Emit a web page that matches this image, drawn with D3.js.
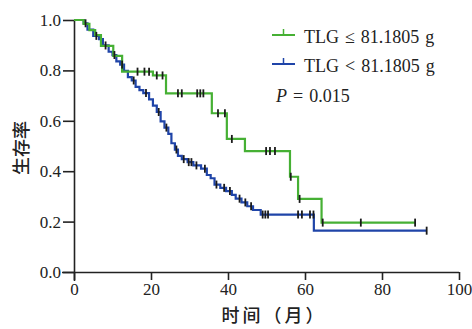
<!DOCTYPE html>
<html>
<head>
<meta charset="utf-8">
<script src="https://cdn.jsdelivr.net/npm/d3@7"></script>
<style>
  body { margin: 0; background: #fff; }
  svg { display: block; }
  .tick text { font-family: "Liberation Serif", "DejaVu Serif", serif; font-size: 17px; fill: #222; }
  .domain, .tick line { stroke: #222; stroke-width: 1.6; }
</style>
</head>
<body>
<svg id="chart" width="472" height="329"></svg>
<script>
// tick values
const xTicks = [0, 20, 40, 60, 80, 100];
const yTicks = [0, 0.2, 0.4, 0.6, 0.8, 1.0];

// green group (TLG <= 81.1805 g): step times and survival after each step
const greenTimes = [0, 2.5, 4, 5.5, 7, 10.2, 12.5, 20.5, 23.9, 35.8, 39.7, 44.4, 56.1, 58.2, 64.3, 88.6];
const greenSurv  = [1.0, 0.985, 0.96, 0.94, 0.897, 0.858, 0.795, 0.78, 0.709, 0.63, 0.528, 0.48, 0.378, 0.29, 0.196, 0.196];
const greenCensor = [16.5, 18.3, 19.5, 21.5, 23, 27, 28, 32, 32.8, 33.6, 37.4, 39.2, 41, 49.9, 50.9, 52.2, 56.3, 58.6, 64.6, 74.5, 88.6];

// blue group (TLG < 81.1805 g)
const blueTimes = [0, 2.5, 3.5, 5, 6.5, 7.5, 9, 10, 11, 12, 13, 14, 15, 16, 17, 18, 19.5, 20.5, 21.5, 22.5, 23.5, 24.5, 25.3, 26.2, 27, 28, 29.5, 31, 33, 34.5, 35.5, 36.5, 38, 39.5, 41, 42, 43.5, 45, 46.5, 48.5, 62.3, 91.6];
const blueSurv  = [1.0, 0.987, 0.962, 0.937, 0.924, 0.899, 0.874, 0.861, 0.836, 0.823, 0.798, 0.773, 0.76, 0.735, 0.722, 0.71, 0.685, 0.66, 0.635, 0.598, 0.573, 0.548, 0.511, 0.486, 0.461, 0.448, 0.436, 0.423, 0.41, 0.385, 0.372, 0.347, 0.334, 0.321, 0.306, 0.291, 0.276, 0.261, 0.246, 0.228, 0.164, 0.164];
const blueCensor = [3, 5.8, 8.2, 10.5, 12.5, 15.5, 18.7, 22, 24, 26.6, 28.5, 29.8, 30.5, 31.8, 34, 37, 39, 40.5, 43, 44.5, 46, 49, 49.7, 50.4, 58.2, 59.2, 61.3, 62.2, 91.6];

const legendLabels = ["TLG \u2264 81.1805 g", "TLG < 81.1805 g"];
const colors = ["#46b034", "#1f44a8"];

const svg = d3.select("#chart");

const x = d3.scaleLinear().domain([0, 100]).range([74, 459]);
const y = d3.scaleLinear().domain([0, 1]).range([272, 20]);

// axes
svg.append("g")
  .attr("transform", "translate(0,272)")
  .call(d3.axisBottom(x).tickValues(xTicks).tickSize(8).tickPadding(3).tickSizeOuter(0))
  .call(g => g.select(".domain").attr("d", "M62,0.5H459"));

svg.append("g")
  .attr("transform", "translate(74,0)")
  .call(d3.axisLeft(y).tickValues(yTicks).tickFormat(d3.format(".1f")).tickSize(11).tickPadding(2).tickSizeOuter(0))
  .call(g => g.select(".domain").attr("d", "M0.5,20V281"));

// axis titles
svg.append("text")
  .attr("x", 20).attr("y", 148)
  .attr("transform", "rotate(-90,20,148)")
  .attr("text-anchor", "middle")
  .attr("dominant-baseline", "central")
  .style("font-family", "'Noto Sans CJK SC'")
  .style("font-size", "18px")
  .style("font-weight", 500)
  .attr("fill", "#222")
  .text("生存率");

svg.append("text")
  .attr("x", 274).attr("y", 322)
  .attr("text-anchor", "middle")
  .style("font-family", "'Noto Sans CJK SC'")
  .style("font-size", "18px")
  .style("font-weight", 500)
  .style("letter-spacing", "3px")
  .attr("fill", "#222")
  .text("时间（月）");

const line = d3.line()
  .x(d => x(d[0]))
  .y(d => y(d[1]))
  .curve(d3.curveStepAfter);

function survAt(times, surv, t) {
  const i = d3.bisectRight(times, t) - 1;
  return surv[Math.max(0, i)];
}

const groups = [
  { times: greenTimes, surv: greenSurv, censor: greenCensor },
  { times: blueTimes, surv: blueSurv, censor: blueCensor }
];

// draw blue first, green on top
[1, 0].forEach(k => {
  const g = groups[k];
  svg.append("path")
    .datum(d3.zip(g.times, g.surv))
    .attr("fill", "none")
    .attr("stroke", colors[k])
    .attr("stroke-width", 2.2)
    .attr("d", line);
});

[1, 0].forEach(k => {
  const g = groups[k];
  svg.append("g").selectAll("line")
    .data(g.censor)
    .join("line")
    .attr("x1", d => x(d)).attr("x2", d => x(d))
    .attr("y1", d => y(survAt(g.times, g.surv, d)) - 4)
    .attr("y2", d => y(survAt(g.times, g.surv, d)) + 4)
    .attr("stroke", "#1a1a1a")
    .attr("stroke-width", 1.8);
});

// legend
const leg = svg.append("g");
const legY = [35, 64];
legendLabels.forEach((lab, i) => {
  leg.append("line")
    .attr("x1", 272).attr("x2", 295)
    .attr("y1", legY[i]).attr("y2", legY[i])
    .attr("stroke", colors[i]).attr("stroke-width", 2);
  leg.append("line")
    .attr("x1", 283.5).attr("x2", 283.5)
    .attr("y1", legY[i] - 6).attr("y2", legY[i])
    .attr("stroke", colors[i]).attr("stroke-width", 1.5);
  leg.append("text")
    .attr("x", 304).attr("y", legY[i] + 2)
    .attr("dominant-baseline", "central")
    .style("font-family", "'Liberation Serif', serif")
    .style("font-size", "18px")
    .style("word-spacing", "1.5px")
    .attr("fill", "#222")
    .text(lab);
});

const ptxt = leg.append("text")
  .attr("x", 276).attr("y", 96)
  .attr("dominant-baseline", "central")
  .style("font-family", "'Liberation Serif', serif")
  .style("font-size", "18px")
  .style("word-spacing", "1.5px")
  .attr("fill", "#222");
ptxt.append("tspan").style("font-style", "italic").text("P");
ptxt.append("tspan").text(" = 0.015");
</script>
</body>
</html>
